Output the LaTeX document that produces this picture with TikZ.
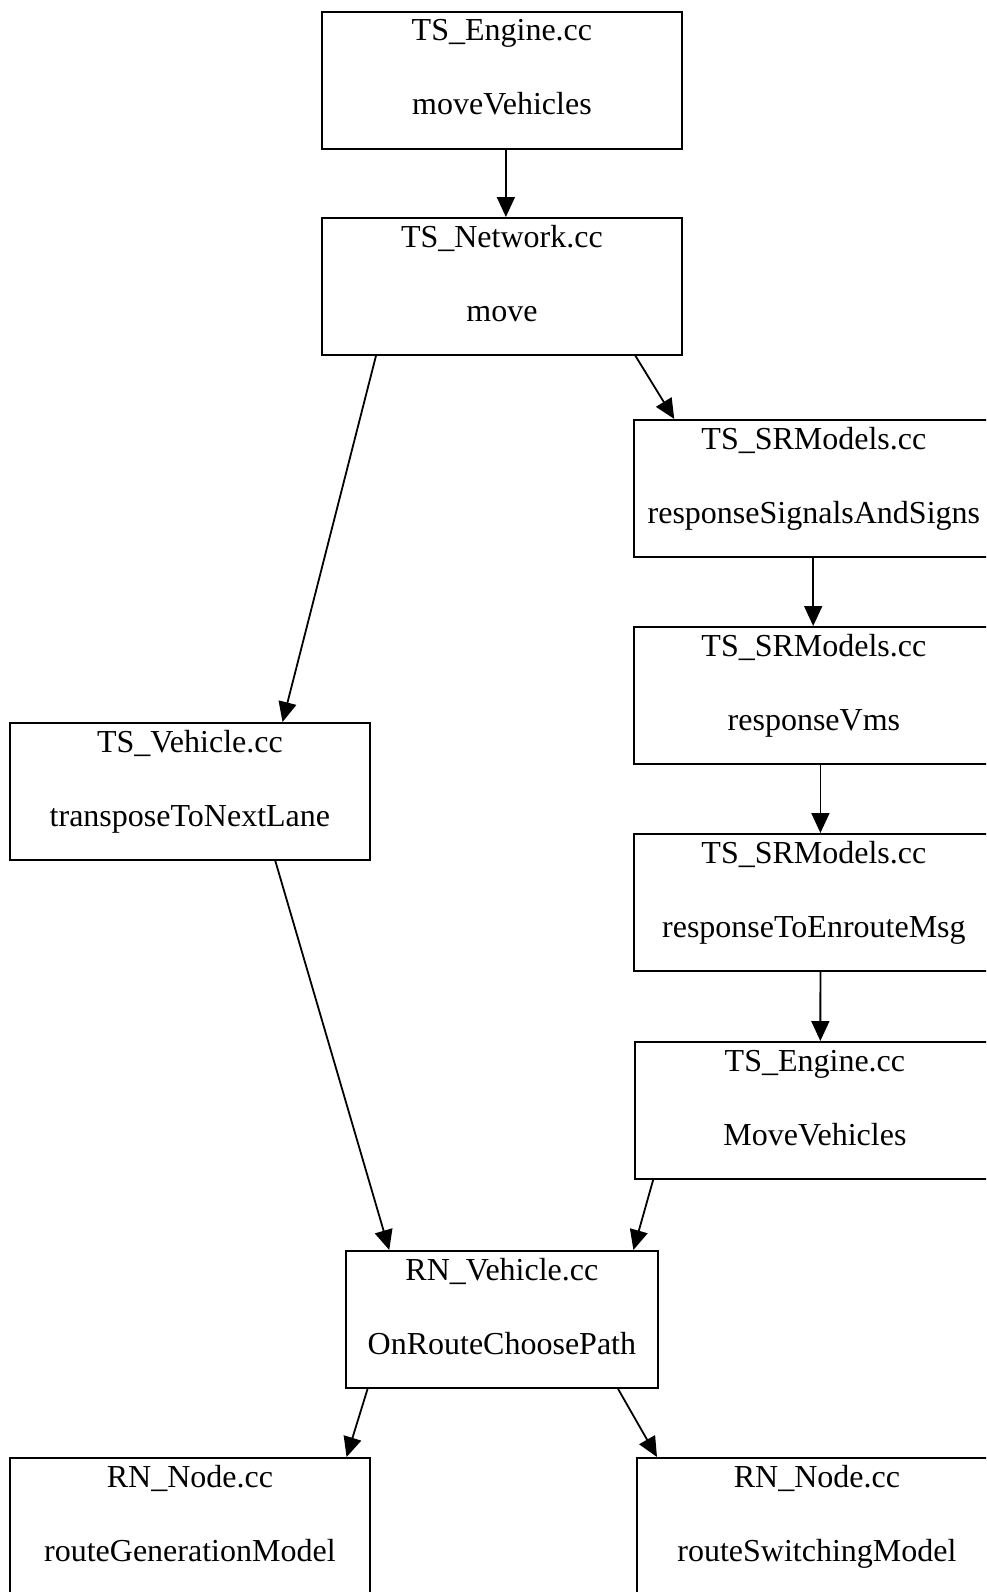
\documentclass[tikz,border=0pt]{standalone}
\usepackage{fontspec}
\setmainfont{Liberation Serif}
\usetikzlibrary{arrows.meta,calc}
\begin{document}
\begin{tikzpicture}[x=1pt,y=-1pt,
  box/.style={draw=black,line width=1.8pt,rectangle,inner sep=0pt,anchor=north west,minimum height=137pt},
  wbox/.style={box,minimum width=360pt},
  nbox/.style={box,minimum width=312pt},
  lbl/.style={anchor=base,inner sep=0pt,font=\fontsize{32}{38}\selectfont},
  edge/.style={line width=1.8pt,-{Triangle[length=20pt,width=18pt]}}]
\clip (0,0) rectangle (986,1592);
\fill[white] (0,0) rectangle (986,1592);
% boxes
\node[wbox] (e1) at (321,11) {};
\node[wbox] (net) at (321,217) {};
\node[wbox] (sr1) at (633,419) {};
\node[wbox] (sr2) at (633,626) {};
\node[wbox] (sr3) at (633,833) {};
\node[wbox] (eng2) at (634,1041) {};
\node[wbox] (veh) at (9,722) {};
\node[nbox] (rnv) at (345,1250) {};
\node[wbox] (nd1) at (9,1457) {};
\node[wbox] (nd2) at (636,1457) {};
% labels
\newcommand{\twolines}[3]{%
  \node[lbl] at ($(#1.north)+(0,30)$) {#2};
  \node[lbl] at ($(#1.north)+(0,104)$) {#3};}
\twolines{e1}{TS\_Engine.cc}{moveVehicles}
\twolines{net}{TS\_Network.cc}{move}
\twolines{sr1}{TS\_SRModels.cc}{responseSignalsAndSigns}
\twolines{sr2}{TS\_SRModels.cc}{responseVms}
\twolines{sr3}{TS\_SRModels.cc}{responseToEnrouteMsg}
\twolines{eng2}{TS\_Engine.cc}{MoveVehicles}
\twolines{veh}{TS\_Vehicle.cc}{transposeToNextLane}
\twolines{rnv}{RN\_Vehicle.cc}{OnRouteChoosePath}
\twolines{nd1}{RN\_Node.cc}{routeGenerationModel}
\twolines{nd2}{RN\_Node.cc}{routeSwitchingModel}
% edges
\newcommand{\edgeab}[4]{%
  \draw[edge] ($(#1.south west)!#2!(#1.south east)$) -- ($(#3.north west)!#4!(#3.north east)$);}
\edgeab{e1}{0.511}{net}{0.511}
\edgeab{net}{0.869}{sr1}{0.114}
\edgeab{net}{0.152}{veh}{0.756}
\edgeab{sr1}{0.498}{sr2}{0.498}
\edgeab{sr2}{0.518}{sr3}{0.518}
\edgeab{sr3}{0.518}{eng2}{0.515}
\edgeab{eng2}{0.053}{rnv}{0.919}
\edgeab{veh}{0.736}{rnv}{0.141}
\edgeab{rnv}{0.072}{nd1}{0.933}
\edgeab{rnv}{0.870}{nd2}{0.058}
\end{tikzpicture}
\end{document}
